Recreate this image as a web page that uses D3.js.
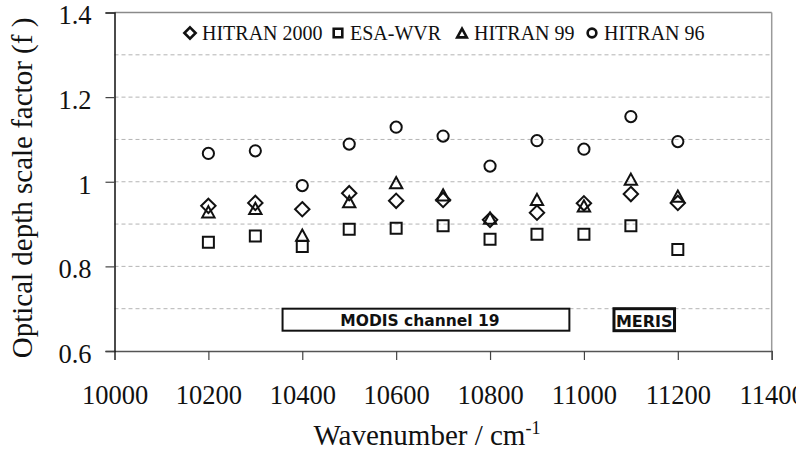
<!DOCTYPE html>
<html>
<head>
<meta charset="utf-8">
<script src="https://cdn.jsdelivr.net/npm/d3@7"></script>
<style>
  html, body { margin: 0; padding: 0; background: #fff; }
  svg { display: block; }
  .serif { font-family: "Liberation Serif", "Times New Roman", serif; }
</style>
</head>
<body>
<svg id="chart" width="796" height="450"></svg>
<script>
// Wavenumber positions of the measurements (cm-1)
const wavenumbers = [10200, 10300, 10400, 10500, 10600, 10700, 10800, 10900, 11000, 11100, 11200];

// Optical depth scale factor per spectroscopic database
const hitran2000 = [0.943, 0.950, 0.935, 0.973, 0.955, 0.957, 0.910, 0.927, 0.949, 0.971, 0.950];
const esaWvr     = [0.857, 0.872, 0.847, 0.888, 0.890, 0.896, 0.864, 0.876, 0.876, 0.896, 0.840];
const hitran99   = [0.929, 0.937, 0.874, 0.953, 0.998, 0.969, 0.914, 0.958, 0.943, 1.006, 0.966];
const hitran96   = [1.067, 1.073, 0.991, 1.089, 1.129, 1.108, 1.037, 1.097, 1.077, 1.154, 1.095];

const seriesNames = ["HITRAN 2000", "ESA-WVR", "HITRAN 99", "HITRAN 96"];

// Axis ticks and grid
const xTicks = [10000, 10200, 10400, 10600, 10800, 11000, 11200, 11400];
const yTicks = [0.6, 0.8, 1.0, 1.2, 1.4];
const yGrid = [0.7, 0.8, 0.9, 1.0, 1.1, 1.2, 1.3];

// Instrument band annotations in wavenumber
const bandNames = ["MODIS channel 19", "MERIS"];
const bandStart = [10358, 11064];
const bandEnd   = [10969, 11193];
const bandLow = 0.648, bandHigh = 0.700;

const svg = d3.select("#chart");
const pLeft = 114.5, pRight = 771.7, pTop = 12.5, pBottom = 351;

const x = d3.scaleLinear().domain([10000, 11400]).range([pLeft, pRight]);
const y = d3.scaleLinear().domain([0.6, 1.4]).range([pBottom, pTop]);

// Marker shapes drawn centred on their bounding box
const shapes = {
  diamond: { draw(ctx, s) { const h = s; ctx.moveTo(0, -h); ctx.lineTo(h, 0); ctx.lineTo(0, h); ctx.lineTo(-h, 0); ctx.closePath(); } },
  square:  { draw(ctx, s) { const h = s; ctx.rect(-h, -h, 2 * h, 2 * h); } },
  triangle:{ draw(ctx, s) { const w = s * 1.1, h = s; ctx.moveTo(0, -h); ctx.lineTo(w, h); ctx.lineTo(-w, h); ctx.closePath(); } },
  circle:  { draw(ctx, s) { ctx.moveTo(s, 0); ctx.arc(0, 0, s, 0, 2 * Math.PI); } }
};
const series = [
  { name: seriesNames[0], values: hitran2000, shape: "diamond",  size: 7.2 },
  { name: seriesNames[1], values: esaWvr,     shape: "square",   size: 5.5 },
  { name: seriesNames[2], values: hitran99,   shape: "triangle", size: 5.6 },
  { name: seriesNames[3], values: hitran96,   shape: "circle",   size: 5.6 }
];
const sym = (shape, size) => d3.symbol().type(shapes[shape]).size(size)();

// Dashed horizontal grid
svg.append("g").selectAll("line").data(yGrid).join("line")
  .attr("x1", pLeft).attr("x2", pRight)
  .attr("y1", d => y(d)).attr("y2", d => y(d))
  .attr("stroke", "#b4b4b4").attr("stroke-width", 1)
  .attr("stroke-dasharray", "4,3");

// Frame: grey top and right edges
svg.append("line").attr("x1", pLeft).attr("x2", pRight).attr("y1", pTop).attr("y2", pTop)
  .attr("stroke", "#8a8a8a").attr("stroke-width", 1.5);
svg.append("line").attr("x1", pRight).attr("x2", pRight).attr("y1", pTop).attr("y2", pBottom)
  .attr("stroke", "#9a9a9a").attr("stroke-width", 1.5);

// Axes
const xAxis = svg.append("g").attr("transform", `translate(0,${pBottom})`)
  .call(d3.axisBottom(x).tickValues(xTicks).tickFormat(d3.format("d")).tickSize(9).tickPadding(25));
xAxis.attr("font-family", null).attr("font-size", null);
xAxis.select(".domain").attr("stroke", "#555").attr("stroke-width", 1.5);
xAxis.selectAll(".tick line").attr("stroke", "#444").attr("stroke-width", 1.2);
xAxis.selectAll("text").attr("class", "serif").style("font-size", "26.5px").attr("fill", "#111");

const yAxis = svg.append("g").attr("transform", `translate(${pLeft},0)`)
  .call(d3.axisLeft(y).tickValues(yTicks).tickFormat(d => d === 1 ? "1" : d3.format(".1f")(d)).tickSize(9).tickPadding(14));
yAxis.attr("font-family", null).attr("font-size", null);
yAxis.select(".domain").attr("stroke", "#111").attr("stroke-width", 1.5);
yAxis.selectAll(".tick line").attr("stroke", "#444").attr("stroke-width", 1.2);
yAxis.selectAll("text").attr("class", "serif").style("font-size", "26.5px").attr("dy", "0.43em").attr("fill", "#111");

// Axis titles
const xt = svg.append("text").attr("class", "serif").attr("x", 427).attr("y", 445)
  .attr("text-anchor", "middle").style("font-size", "29px").attr("fill", "#111");
xt.append("tspan").text("Wavenumber / cm");
xt.append("tspan").attr("dy", -11).style("font-size", "18px").text("-1");

svg.append("text").attr("class", "serif").attr("transform", "translate(32,188) rotate(-90)")
  .attr("text-anchor", "middle").style("font-size", "29px").attr("fill", "#111")
  .text("Optical depth scale factor (f )");

// Band annotation boxes
const bands = bandNames.map((n, i) => ({ name: n, x0: bandStart[i], x1: bandEnd[i] }));
const bg = svg.append("g").selectAll("g").data(bands).join("g");
bg.append("rect")
  .attr("x", d => x(d.x0)).attr("y", y(bandHigh))
  .attr("width", d => x(d.x1) - x(d.x0)).attr("height", y(bandLow) - y(bandHigh))
  .attr("fill", "#fff").attr("stroke", "#111")
  .attr("stroke-width", (d, i) => i === 0 ? 2 : 3);
bg.append("text")
  .attr("x", (d, i) => (x(d.x0) + x(d.x1)) / 2 + (i === 0 ? -6 : 0))
  .attr("y", (d, i) => i === 0 ? 325.5 : 327)
  .attr("text-anchor", "middle")
  .style("font-family", "'DejaVu Sans', Verdana, sans-serif").style("font-weight", "bold")
  .style("font-size", (d, i) => i === 0 ? "15.5px" : "16px")
  .attr("fill", "#111")
  .text(d => d.name);

// Data markers
const mg = svg.append("g").selectAll("g").data(series).join("g");
mg.selectAll("path").data(s => s.values.map((v, i) => ({ v, w: wavenumbers[i], s }))).join("path")
  .attr("transform", d => `translate(${x(d.w)},${y(d.v)})`)
  .attr("d", d => sym(d.s.shape, d.s.size))
  .attr("fill", "none").attr("stroke", "#111").attr("stroke-width", 2);

// Legend
const legendX = [190, 338, 462, 592];
const lg = svg.append("g").selectAll("g").data(series).join("g")
  .attr("transform", (d, i) => `translate(${legendX[i]},33)`);
lg.append("path").attr("d", d => sym(d.shape, d.size * 0.78))
  .attr("fill", "none").attr("stroke", "#111").attr("stroke-width", 2.6);
lg.append("text").attr("class", "serif").attr("x", 12).attr("y", 7)
  .style("font-size", "20px").attr("fill", "#111")
  .text(d => d.name);
</script>
</body>
</html>
